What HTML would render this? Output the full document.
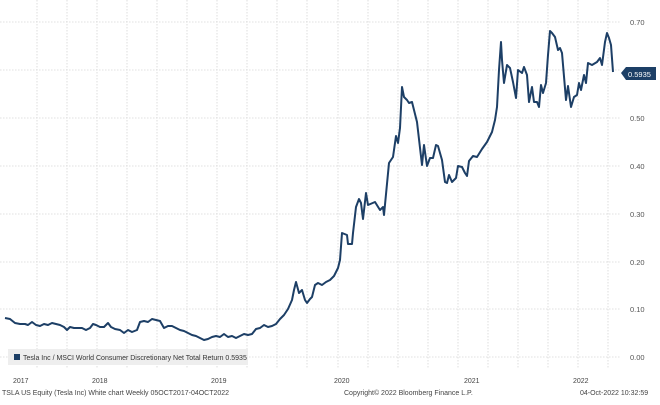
<!DOCTYPE html>
<html><head><meta charset="utf-8"><style>
body{margin:0;background:#fff;}
svg{display:block;font-family:"Liberation Sans",sans-serif;}
</style></head><body>
<svg width="660" height="405" viewBox="0 0 660 405">
<rect width="660" height="405" fill="#fff"/>
<g stroke="#d6d6d6" stroke-width="0.8" stroke-dasharray="1.5,1.5">
<line x1="0" y1="22" x2="620" y2="22"/><line x1="0" y1="70" x2="620" y2="70"/><line x1="0" y1="118" x2="620" y2="118"/><line x1="0" y1="166" x2="620" y2="166"/><line x1="0" y1="214" x2="620" y2="214"/><line x1="0" y1="262" x2="620" y2="262"/><line x1="0" y1="309" x2="620" y2="309"/><line x1="0" y1="357" x2="620" y2="357"/>
<line x1="37" y1="0" x2="37" y2="368"/><line x1="67" y1="0" x2="67" y2="368"/><line x1="97" y1="0" x2="97" y2="368"/><line x1="127" y1="0" x2="127" y2="368"/><line x1="157" y1="0" x2="157" y2="368"/><line x1="187" y1="0" x2="187" y2="368"/><line x1="217" y1="0" x2="217" y2="368"/><line x1="247" y1="0" x2="247" y2="368"/><line x1="277" y1="0" x2="277" y2="368"/><line x1="307" y1="0" x2="307" y2="368"/><line x1="338" y1="0" x2="338" y2="368"/><line x1="368" y1="0" x2="368" y2="368"/><line x1="398" y1="0" x2="398" y2="368"/><line x1="428" y1="0" x2="428" y2="368"/><line x1="458" y1="0" x2="458" y2="368"/><line x1="488" y1="0" x2="488" y2="368"/><line x1="518" y1="0" x2="518" y2="368"/><line x1="548" y1="0" x2="548" y2="368"/><line x1="578" y1="0" x2="578" y2="368"/><line x1="608" y1="0" x2="608" y2="368"/>
</g>
<polyline fill="none" stroke="#1d3f66" stroke-width="2" stroke-linejoin="round" points="5,318 10,319 15,323 20,324 25,324 28,325 32,322 36,325 40,326 44,324 48,325 52,323 56,324 60,325 64,327 67,330 70,327 74,328 78,328 82,328 86,330 90,328 93,324 96,325 100,327 104,327 108,323 111,327 115,329 120,330 124,333 128,330 132,332 137,330 140,322 144,321 148,322 152,319 156,320 160,321 164,328 168,326 172,326 176,328 180,330 184,331 188,333 192,335 196,336 200,338 204,340 208,339 212,337 216,336 220,337 224,334 228,337 232,336 236,338 240,336 244,334 248,335 252,334 256,329 260,328 264,325 268,327 272,326 276,324 280,319 284,315 288,309 292,300 294,290 296,282 299,293 302,290 305,300 307,303 310,299 312,297 315,285 318,283 322,285 326,282 330,280 334,276 338,268 340,260 342,233 347,235 348,244 352,244 353,233 356,207 359,199 361,203 363,219 366,193 368,205 375,202 380,210 383,207 384,215 389,163 393,157 396,136 398,143 400,128 402,87 404,97 407,100 409,103 412,102 417,122 422,165 424,145 427,166 430,158 433,158 436,145 438,146 442,160 445,182 447,183 449,175 452,182 456,178 458,166 462,167 465,173 467,176 469,161 473,156 477,157 482,149 487,142 492,132 495,120 497,107 499,70 501,42 502,60 504,83 507,65 510,68 513,82 516,98 518,70 522,73 524,67 527,75 529,102 532,87 534,102 537,102 539,107 541,85 543,93 546,83 548,55 550,31 552,33 555,37 558,50 560,48 562,53 566,100 568,86 571,107 574,97 577,95 579,83 581,90 584,75 586,83 588,63 592,65 597,62 600,58 602,65 605,42 607,33 609,38 611,45 613,72"/>
<g font-size="7.5" fill="#555">
<text x="630" y="25">0.70</text><text x="630" y="121">0.50</text><text x="630" y="169">0.40</text><text x="630" y="217">0.30</text><text x="630" y="265">0.20</text><text x="630" y="312">0.10</text><text x="630" y="360">0.00</text>
</g>
<path d="M621,73 L626,67 L656,67 L656,80 L626,80 Z" fill="#1d3f66"/>
<text x="628" y="77" font-size="7.5" fill="#fff">0.5935</text>
<rect x="8" y="349" width="240" height="16" fill="#eeeeee"/>
<rect x="14" y="354" width="6" height="6" fill="#1d3f66"/>
<text x="23" y="360" font-size="7" fill="#333">Tesla Inc / MSCI World Consumer Discretionary Net Total Return 0.5935</text>
<g font-size="7" fill="#444">
<text x="13" y="383">2017</text><text x="92" y="383">2018</text><text x="211" y="383">2019</text><text x="334" y="383">2020</text><text x="464" y="383">2021</text><text x="573" y="383">2022</text>
<text x="2" y="395">TSLA US Equity (Tesla Inc) White chart  Weekly 05OCT2017-04OCT2022</text>
<text x="344" y="395">Copyright© 2022 Bloomberg Finance L.P.</text>
<text x="580" y="395">04-Oct-2022 10:32:59</text>
</g>
</svg>
</body></html>
